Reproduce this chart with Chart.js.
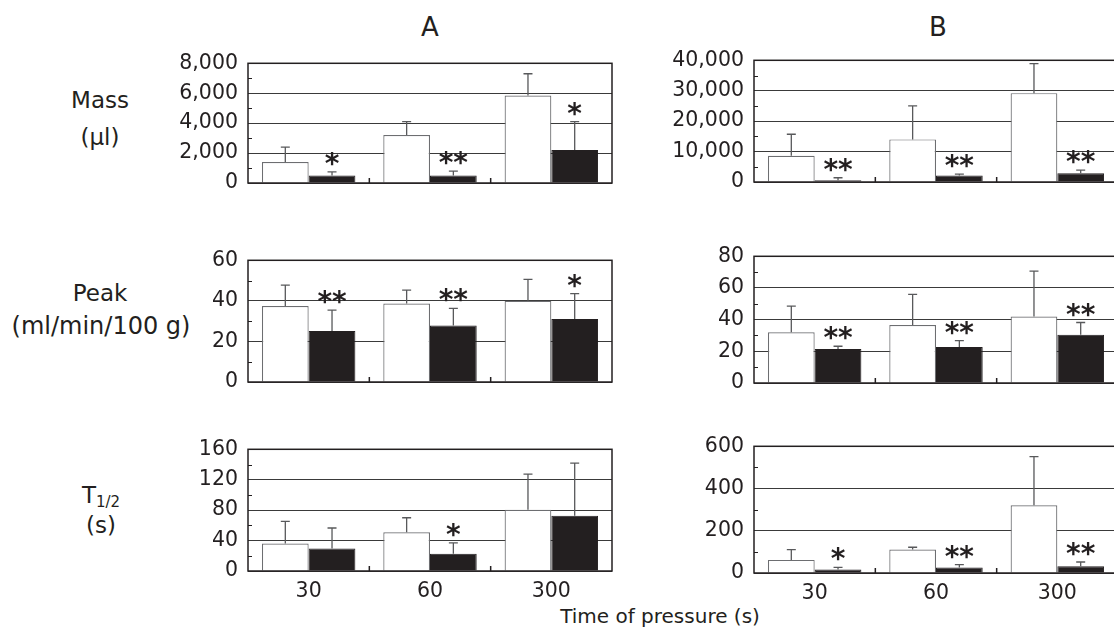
<!DOCTYPE html>
<html>
<head>
<meta charset="utf-8">
<script src="https://cdn.jsdelivr.net/npm/chart.js@4.4.0/dist/chart.umd.min.js"></script>
<style>
  html, body { margin: 0; padding: 0; background: #fff; width: 1114px; height: 636px; overflow: hidden; }
  body { position: relative; font-family: "DejaVu Sans", Verdana, sans-serif; color: #231f20; }
  .lbl { position: absolute; transform: translate(-50%, -50%); white-space: nowrap; text-align: center; font-size: 23px; }
  .lbl sub { font-size: 15px; vertical-align: -4px; }
  canvas { position: absolute; }
</style>
</head>
<body>
<div class="lbl" style="left:430px;top:27px;font-size:26px">A</div>
<div class="lbl" style="left:938px;top:27px;font-size:26px">B</div>
<div class="lbl" style="left:100px;top:100px">Mass</div>
<div class="lbl" style="left:100px;top:137px">(µl)</div>
<div class="lbl" style="left:100px;top:293px">Peak</div>
<div class="lbl" style="left:101px;top:326px;font-size:24px">(ml/min/100 g)</div>
<div class="lbl" style="left:101px;top:496px">T<sub>1/2</sub></div>
<div class="lbl" style="left:101px;top:525px">(s)</div>
<div class="lbl" style="left:660px;top:616px;font-size:20px">Time of pressure (s)</div>

<canvas id="massA"></canvas>
<canvas id="massB"></canvas>
<canvas id="peakA"></canvas>
<canvas id="peakB"></canvas>
<canvas id="halfA"></canvas>
<canvas id="halfB"></canvas>

<script>
const categories = ["30", "60", "300"];

// mass (µl)
const massA_white = [1400, 3200, 5850];
const massA_whiteSd = [1000, 900, 1450];
const massA_black = [500, 500, 2200];
const massA_blackSd = [250, 300, 1900];
const massA_stars = ["*", "**", "*"];

const massB_white = [8600, 14000, 29200];
const massB_whiteSd = [7100, 11000, 9700];
const massB_black = [600, 2100, 2900];
const massB_blackSd = [800, 500, 1000];
const massB_stars = ["**", "**", "**"];

// peak (ml/min/100 g)
const peakA_white = [37.5, 38.7, 40];
const peakA_whiteSd = [10.3, 6.6, 10.6];
const peakA_black = [25.2, 27.8, 31.1];
const peakA_blackSd = [10.2, 8.5, 12.5];
const peakA_stars = ["**", "**", "*"];

const peakB_white = [32, 36.6, 42];
const peakB_whiteSd = [16.5, 19.4, 28.6];
const peakB_black = [21.5, 22.8, 30.5];
const peakB_blackSd = [1.7, 3.9, 7.7];
const peakB_stars = ["**", "**", "**"];

// T1/2 (s)
const halfA_white = [36, 51, 80.4];
const halfA_whiteSd = [29.3, 19, 47];
const halfA_black = [29.5, 22.7, 72.8];
const halfA_blackSd = [27, 14.3, 69];
const halfA_stars = ["", "*", ""];

const halfB_white = [62, 111, 321];
const halfB_whiteSd = [49, 11, 230];
const halfB_black = [16, 26, 32];
const halfB_blackSd = [11, 14, 20];
const halfB_stars = ["*", "**", "**"];

const ink = "#231f20";
const tickFont = { family: "DejaVu Sans", size: 20.5 };

// error bars, stars, frame and the small inner ticks
const framePlugin = {
  id: "frame",
  afterDatasetsDraw(chart, args, opts) {
    const c = chart.ctx;
    const area = chart.chartArea;
    const ys = chart.scales.y;
    const xs = chart.scales.x;
    c.save();

    chart.data.datasets.forEach((ds, i) => {
      const meta = chart.getDatasetMeta(i);
      meta.data.forEach((bar, j) => {
        const top = ys.getPixelForValue(ds.data[j] + ds.sd[j]);
        c.strokeStyle = "#58595b";
        c.lineWidth = 1.3;
        c.beginPath();
        c.moveTo(bar.x, bar.y);
        c.lineTo(bar.x, top);
        c.moveTo(bar.x - 4.5, top);
        c.lineTo(bar.x + 4.5, top);
        c.stroke();
        if (ds.stars && ds.stars[j]) {
          c.font = "bold 28px 'DejaVu Sans'";
          c.fillStyle = ink;
          c.textAlign = "center";
          c.textBaseline = "alphabetic";
          const m = c.measureText(ds.stars[j]);
          c.fillText(ds.stars[j], bar.x, top - 6 - m.actualBoundingBoxDescent);
        }
      });
    });

    c.strokeStyle = ink;
    c.lineWidth = 1.5;
    c.strokeRect(area.left, area.top, area.right - area.left, area.bottom - area.top);

    // minor ticks on the left axis
    c.lineWidth = 1;
    for (let v = opts.step / 2; v < ys.max; v += opts.step) {
      const p = Math.round(ys.getPixelForValue(v)) + 0.5;
      c.beginPath();
      c.moveTo(area.left, p);
      c.lineTo(area.left + 4, p);
      c.stroke();
    }
    // ticks between categories
    c.lineWidth = 1.5;
    for (let k = 0; k < categories.length - 1; k++) {
      const p = (xs.getPixelForValue(k) + xs.getPixelForValue(k + 1)) / 2;
      c.beginPath();
      c.moveTo(p, area.bottom);
      c.lineTo(p, area.bottom - 5);
      c.stroke();
    }
    c.restore();
  },
};

function makePanel(id, left, top, bottom, cfg) {
  const el = document.getElementById(id);
  const w = 90 + 364 + 10;
  const h = bottom - top + 10 + 40;
  el.width = w;
  el.height = h;
  el.style.left = left - 90 + "px";
  el.style.top = top - 10 + "px";
  el.style.width = w + "px";
  el.style.height = h + "px";

  return new Chart(el, {
    type: "bar",
    data: {
      labels: categories,
      datasets: [
        { data: cfg.white, sd: cfg.whiteSd, backgroundColor: "#fff", borderColor: "#6d6e71", borderWidth: 1.2 },
        { data: cfg.black, sd: cfg.blackSd, stars: cfg.stars, backgroundColor: ink, borderColor: ink, borderWidth: 1 },
      ],
    },
    options: {
      responsive: false,
      animation: false,
      layout: { padding: { top: 10, right: 10, left: 0, bottom: 0 } },
      datasets: { bar: { categoryPercentage: 0.77, barPercentage: 1 } },
      plugins: {
        legend: { display: false },
        tooltip: { enabled: false },
        frame: { step: cfg.step },
      },
      scales: {
        x: {
          grid: { display: false, drawTicks: false },
          border: { display: false },
          ticks: { display: !!cfg.showX, font: tickFont, color: ink, padding: 8 },
          afterFit: (s) => { s.height = 40; },
        },
        y: {
          min: 0,
          max: cfg.max,
          grid: { color: "#3a3a3a", lineWidth: 1, drawTicks: false },
          border: { display: false },
          ticks: {
            stepSize: cfg.step,
            font: tickFont,
            color: ink,
            padding: 10,
            callback: (v) => v.toLocaleString("en-US"),
          },
          afterFit: (s) => { s.width = 90; },
        },
      },
    },
    plugins: [framePlugin],
  });
}

makePanel("massA", 248, 51, 183, { white: massA_white, whiteSd: massA_whiteSd, black: massA_black, blackSd: massA_blackSd, stars: massA_stars, max: 8000, step: 2000 });
makePanel("massB", 754, 48, 182, { white: massB_white, whiteSd: massB_whiteSd, black: massB_black, blackSd: massB_blackSd, stars: massB_stars, max: 40000, step: 10000 });
makePanel("peakA", 248, 248, 382, { white: peakA_white, whiteSd: peakA_whiteSd, black: peakA_black, blackSd: peakA_blackSd, stars: peakA_stars, max: 60, step: 20 });
makePanel("peakB", 754, 244, 383, { white: peakB_white, whiteSd: peakB_whiteSd, black: peakB_black, blackSd: peakB_blackSd, stars: peakB_stars, max: 80, step: 20 });
makePanel("halfA", 248, 437, 571, { white: halfA_white, whiteSd: halfA_whiteSd, black: halfA_black, blackSd: halfA_blackSd, stars: halfA_stars, max: 160, step: 40, showX: true });
makePanel("halfB", 754, 434, 573, { white: halfB_white, whiteSd: halfB_whiteSd, black: halfB_black, blackSd: halfB_blackSd, stars: halfB_stars, max: 600, step: 200, showX: true });
</script>
</body>
</html>
